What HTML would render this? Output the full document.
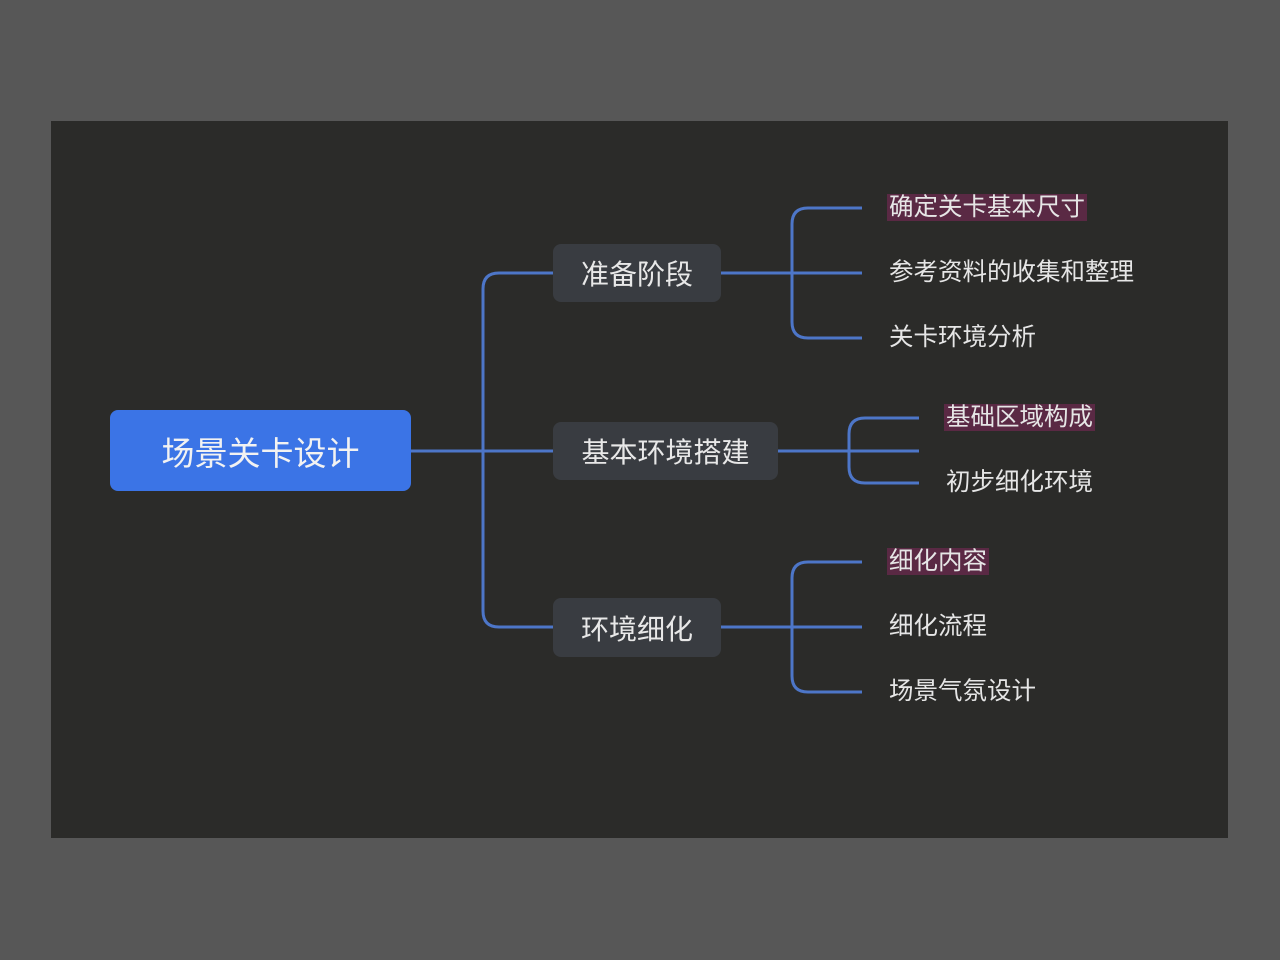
<!DOCTYPE html>
<html><head><meta charset="utf-8"><style>
body{margin:0;width:1280px;height:960px;background:#575757;position:relative;overflow:hidden;font-family:"Liberation Sans","Noto Sans CJK SC",sans-serif;}
.in{position:absolute;left:51px;top:121px;width:1177px;height:717px;background:#2b2b29;}
.n{position:absolute;background:#393c41;border-radius:8px;color:#e8e8e8;font-size:28px;display:flex;align-items:center;justify-content:center;}
.l{position:absolute;color:#e6e6e6;font-size:24.5px;line-height:36px;white-space:nowrap;}
.h{background:#5a2944;padding:0 2px;margin-left:-2px;}
</style></head><body>
<div class="in"></div>
<svg width="1280" height="960" style="position:absolute;left:0;top:0">
<g fill="none" stroke="#4d76c8" stroke-width="3">
<path d="M411 451 H553"/>
<path d="M553 273 H499 Q483 273 483 289 V611 Q483 627 499 627 H553"/>
<path d="M721 273 H862 M862 208 H808 Q792 208 792 224 V322 Q792 338 808 338 H862"/>
<path d="M778 451 H919 M919 418 H865 Q849 418 849 434 V467 Q849 483 865 483 H919"/>
<path d="M721 627 H862 M862 562 H808 Q792 562 792 578 V676 Q792 692 808 692 H862"/>
</g></svg>
<div class="n" style="left:110px;top:410px;width:301px;height:81px;background:#3b74e6;font-size:33px;color:#f2f2f2;">场景关卡设计</div>
<div class="n" style="left:553px;top:244px;width:168px;height:58px;">准备阶段</div>
<div class="n" style="left:553px;top:422px;width:225px;height:58px;">基本环境搭建</div>
<div class="n" style="left:553px;top:598px;width:168px;height:59px;">环境细化</div>
<div class="l" style="left:889px;top:190px;"><span class="h">确定关卡基本尺寸</span></div>
<div class="l" style="left:889px;top:255px;">参考资料的收集和整理</div>
<div class="l" style="left:889px;top:320px;">关卡环境分析</div>
<div class="l" style="left:946px;top:400px;"><span class="h">基础区域构成</span></div>
<div class="l" style="left:946px;top:465px;">初步细化环境</div>
<div class="l" style="left:889px;top:544px;"><span class="h">细化内容</span></div>
<div class="l" style="left:889px;top:609px;">细化流程</div>
<div class="l" style="left:889px;top:674px;">场景气氛设计</div>
</body></html>
